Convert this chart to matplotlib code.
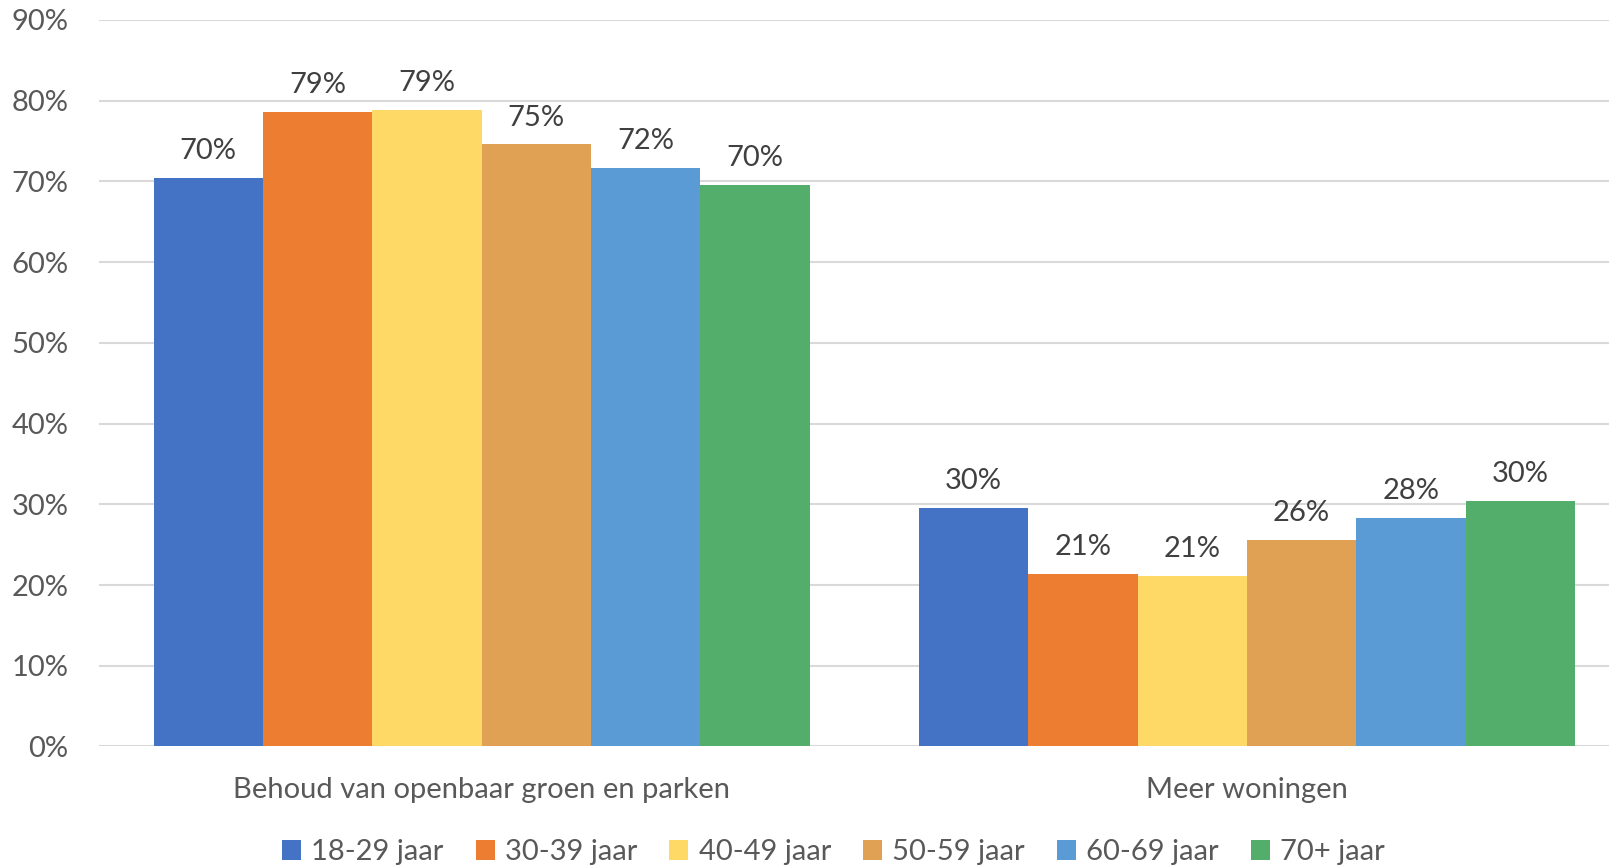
import numpy as np
import matplotlib
matplotlib.use("Agg")
import matplotlib.pyplot as plt
from matplotlib.ticker import PercentFormatter

plt.rcParams['font.family'] = ['Lato', 'DejaVu Sans']

categories = ["Behoud van openbaar groen en parken", "Meer woningen"]
age_groups = ["18-29 jaar", "30-39 jaar", "40-49 jaar", "50-59 jaar", "60-69 jaar", "70+ jaar"]
groen = [70.4, 78.6, 78.9, 74.6, 71.7, 69.6]
woningen = [29.6, 21.4, 21.1, 25.6, 28.3, 30.4]
colors = ["#4472C4", "#ED7D31", "#FFD966", "#E0A155", "#5B9BD5", "#53AD6B"]

fig = plt.figure(figsize=(16.09, 8.68), dpi=100)
ax = fig.add_axes([0.0615, 0.14, 0.9385, 0.837])

x = np.arange(len(categories))
n = len(age_groups)
w = 1 / 7
for i, (age, c) in enumerate(zip(age_groups, colors)):
    vals = np.array([groen[i], woningen[i]]) / 100
    pos = x + (i - (n - 1) / 2) * w
    bars = ax.bar(pos, vals, width=w, color=c, label=age, zorder=3)
    for b, v in zip(bars, vals):
        ax.text(b.get_x() + b.get_width() / 2, v + 0.017, f"{v*100:.0f}%",
                ha='center', va='bottom', fontsize=21, color='#404040')

ax.set_xlim(-0.5, 1.473)
ax.set_ylim(0, 0.9)
ax.set_yticks(np.arange(0, 0.91, 0.1))
ax.yaxis.set_major_formatter(PercentFormatter(1.0, decimals=0))
ax.grid(axis='y', color='#d9d9d9', linewidth=1.5, zorder=0)
for s in ax.spines.values():
    s.set_visible(False)
ax.tick_params(axis='y', length=0, pad=22, labelsize=21, labelcolor='#595959')
ax.tick_params(axis='x', length=0, pad=22, labelsize=21, labelcolor='#595959')
ax.set_xticks(x)
ax.set_xticklabels(categories)

leg = fig.legend(loc='center', bbox_to_anchor=(0.518, 0.018), ncol=6, frameon=False,
                 fontsize=21, handlelength=0.65, handleheight=0.65, handletextpad=0.35,
                 columnspacing=1.1)
for t in leg.get_texts():
    t.set_color('#595959')

fig.savefig("out.png", dpi=100)
